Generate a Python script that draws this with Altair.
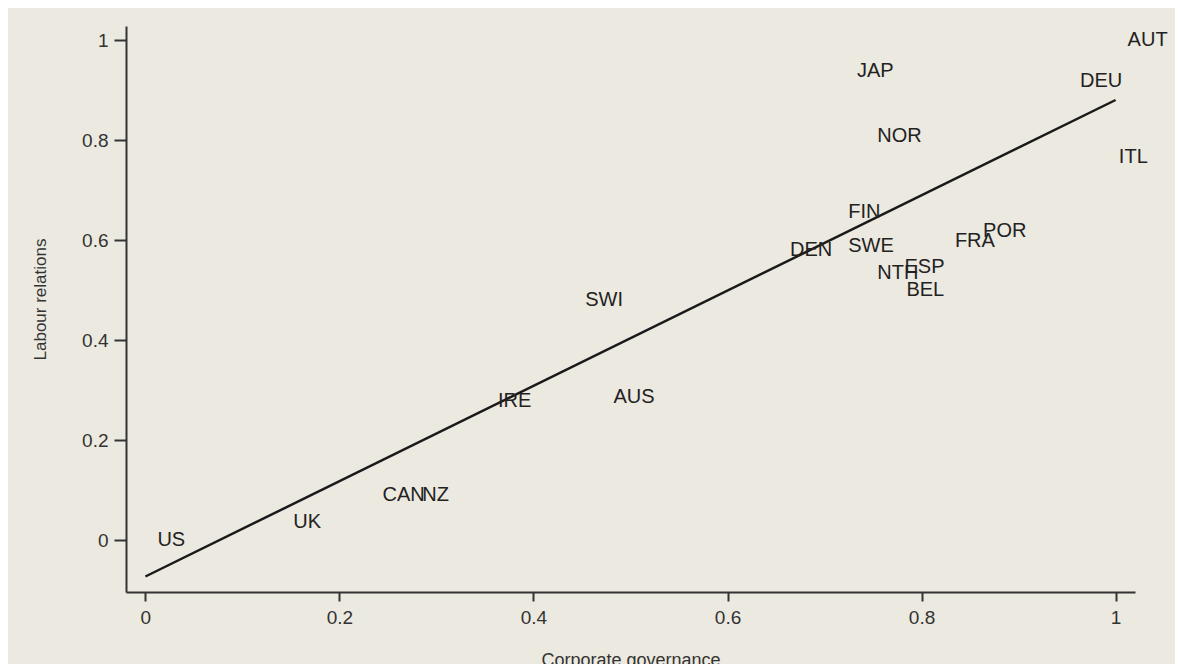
import altair as alt
import pandas as pd

# Country labels (Corporate governance vs Labour relations)
countries = ["US", "UK", "CAN", "NZ", "IRE", "AUS", "SWI", "DEN", "SWE", "FIN",
             "NTH", "ESP", "BEL", "FRA", "POR", "JAP", "NOR", "DEU", "ITL", "AUT"]
corp_gov = [0.0, 0.14, 0.232, 0.273, 0.351, 0.470, 0.441, 0.652, 0.712, 0.712,
            0.742, 0.770, 0.772, 0.822, 0.851, 0.721, 0.742, 0.951, 0.991, 1.0]
labour_rel = [0.0, 0.037, 0.09, 0.09, 0.278, 0.287, 0.48, 0.58, 0.589, 0.657,
              0.535, 0.547, 0.50, 0.599, 0.619, 0.939, 0.808, 0.919, 0.766, 1.0]

# Fitted line end points
fit_x = [0.0, 1.0]
fit_y = [-0.073, 0.88]

tick_vals = [0, 0.2, 0.4, 0.6, 0.8, 1]

pts = pd.DataFrame({"country": countries, "cg": corp_gov, "lr": labour_rel})
fit = pd.DataFrame({"cg": fit_x, "lr": fit_y})

FONT = "Liberation Sans"
AX = "#333333"

xscale = alt.Scale(domain=[-0.02, 1.02], nice=False, zero=False)
yscale = alt.Scale(domain=[-0.104, 1.028], nice=False, zero=False)

xaxis = alt.Axis(
    values=tick_vals, format=".1~f", grid=False,
    domainColor=AX, domainWidth=2, tickColor=AX, tickWidth=2, tickSize=9,
    labelFont=FONT, labelFontSize=19, labelColor=AX, labelPadding=7,
    title="Corporate governance", titleFont=FONT, titleFontSize=18,
    titleFontWeight="normal", titleColor=AX, titleY=73, titleBaseline="alphabetic",
)
yaxis = alt.Axis(
    values=tick_vals, format=".1~f", grid=False,
    domainColor=AX, domainWidth=2, tickColor=AX, tickWidth=2, tickSize=12,
    labelFont=FONT, labelFontSize=19, labelColor=AX, labelPadding=6,
    title="Labour relations", titleFont=FONT, titleFontSize=17,
    titleFontWeight="normal", titleColor=AX, titleAngle=-90,
    titleX=-86, titleY=273, titleAlign="center", titleBaseline="middle",
)

line = alt.Chart(fit).mark_line(color="#1a1a1a", strokeWidth=2.5).encode(
    x=alt.X("cg:Q", scale=xscale, axis=xaxis),
    y=alt.Y("lr:Q", scale=yscale, axis=yaxis),
)

labels = alt.Chart(pts).mark_text(
    align="left", baseline="middle", dx=12, font=FONT, fontSize=20, color="#222222"
).encode(
    x=alt.X("cg:Q", scale=xscale),
    y=alt.Y("lr:Q", scale=yscale),
    text="country:N",
)

chart = (line + labels).properties(
    width=1009, height=566,
    background="#ECE9E0",
    autosize=alt.AutoSizeParams(type="none"),
    padding={"left": 118, "top": 18, "right": 40, "bottom": 72},
).configure_view(stroke=None)

chart.save("out.html", embed_options={"renderer": "svg", "actions": False})
